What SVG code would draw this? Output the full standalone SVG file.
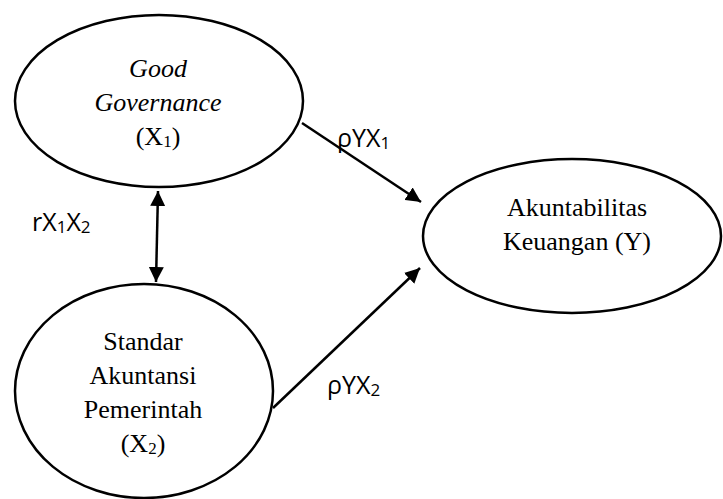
<svg xmlns="http://www.w3.org/2000/svg" width="723" height="499" viewBox="0 0 723 499">
<style>
.node ellipse{fill:#fff;stroke:#000;stroke-width:2.5}
.serif{font-family:"Liberation Serif","Times New Roman",serif;font-size:26px;fill:#000;text-anchor:middle}
.it{font-style:italic}
.sans{font-family:"Open Sans","Noto Sans","Liberation Sans",sans-serif;font-size:25px;fill:#000}
.edge{stroke:#000;stroke-width:2.5;fill:none}
</style>
<defs>
<marker id="ah" viewBox="0 0 10 10" refX="10" refY="5" markerWidth="6" markerHeight="6" orient="auto-start-reverse" markerUnits="strokeWidth">
<path d="M0,0 L10,5 L0,10 z" fill="#000"/>
</marker>
</defs>
<g id="x1" class="node">
<ellipse cx="159" cy="101" rx="144" ry="86"/>
<text class="serif it" x="158" y="77">Good</text>
<text class="serif it" x="158" y="111">Governance</text>
<text class="serif" x="158" y="145">(X<tspan font-size="17" dy="2">1</tspan><tspan dy="-2">)</tspan></text>
</g>
<g id="x2" class="node">
<ellipse cx="144" cy="391" rx="129" ry="107"/>
<text class="serif" x="143" y="350">Standar</text>
<text class="serif" x="143" y="384">Akuntansi</text>
<text class="serif" x="143" y="418">Pemerintah</text>
<text class="serif" x="143" y="452">(X<tspan font-size="17" dy="2">2</tspan><tspan dy="-2">)</tspan></text>
</g>
<g id="y" class="node">
<ellipse cx="572" cy="236" rx="149" ry="77"/>
<text class="serif" x="577" y="216">Akuntabilitas</text>
<text class="serif" x="577" y="250">Keuangan (Y)</text>
</g>
<g id="connectors">
<line class="edge" x1="302" y1="123" x2="421" y2="202" marker-end="url(#ah)"/>
<line class="edge" x1="273" y1="408" x2="420" y2="268" marker-end="url(#ah)"/>
<line class="edge" x1="158" y1="191" x2="156" y2="282" marker-start="url(#ah)" marker-end="url(#ah)"/>
</g>
<g id="labels">
<text class="sans" x="337" y="147">ρYX<tspan font-size="17" dy="2">1</tspan></text>
<text class="sans" x="32" y="231">rX<tspan font-size="17" dy="2">1</tspan><tspan dy="-2">X</tspan><tspan font-size="17" dy="2">2</tspan></text>
<text class="sans" x="327" y="394">ρYX<tspan font-size="17" dy="2">2</tspan></text>
</g>
</svg>
